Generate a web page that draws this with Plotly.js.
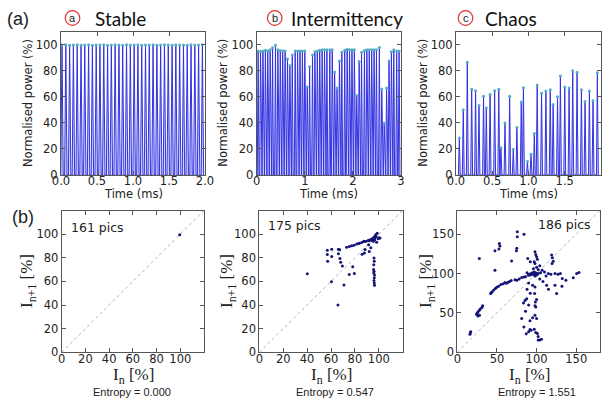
<!DOCTYPE html>
<html><head><meta charset="utf-8">
<script src="https://cdn.plot.ly/plotly-3.0.1.min.js"></script>
<style>html,body{margin:0;padding:0;background:#fff}#chart{width:607px;height:400px}</style>
</head><body><div id="chart"></div>
<script>
// ---- Data ----
// (a) Stable: peak times (ms) and normalised peak powers (%)
const stableTimes = [0.014,0.067,0.120,0.172,0.225,0.278,0.330,0.383,0.436,0.489,0.541,0.594,0.647,0.699,0.752,0.805,0.857,0.910,0.963,1.016,1.068,1.121,1.174,1.226,1.279,1.332,1.384,1.437,1.490,1.543,1.595,1.648,1.701,1.753,1.806,1.859,1.911,1.964];
const stablePeaks = [99.6,99.8,99.5,99.7,99.9,99.4,99.6,99.8,99.5,99.7,99.6,99.9,99.5,99.7,99.8,99.6,99.5,99.8,99.7,99.6,99.9,99.5,99.7,99.6,99.8,99.5,99.7,99.9,99.6,99.5,99.8,99.7,99.6,99.5,99.8,99.6,99.7,99.9];
// (b) Intermittency
const interTimes = [0.03,0.08,0.13,0.18,0.23,0.28,0.33,0.39,0.44,0.49,0.54,0.59,0.64,0.69,0.74,0.80,0.85,0.90,0.95,1.00,1.05,1.10,1.16,1.21,1.26,1.31,1.36,1.41,1.46,1.52,1.57,1.62,1.67,1.72,1.77,1.83,1.88,1.93,1.98,2.03,2.08,2.13,2.18,2.24,2.29,2.34,2.39,2.44,2.49,2.55,2.60,2.65,2.70,2.75,2.80,2.85,2.91,2.96];
const interPeaks = [95,94.6,95,95.6,95,96,97.5,99.5,96,95.4,95,95,89,84,92,95,95,95,95,95,67.5,83,92,94.5,95,95.6,96,96,96,96,96,79,66.6,87.4,94,95.6,96.4,96,96,96,61,87,94,95.4,96,96,96,96,96,97.7,66,39.6,66.6,87.4,94.4,96,95,95];
// (c) Chaos
const chaosTimes = [0.046,0.10,0.156,0.216,0.27,0.317,0.38,0.418,0.47,0.533,0.59,0.62,0.676,0.74,0.79,0.84,0.90,0.93,0.985,1.035,1.08,1.12,1.18,1.24,1.30,1.34,1.40,1.44,1.50,1.56,1.61,1.67,1.73,1.78,1.84,1.89,1.95];
const chaosPeaks = [28.3,50,86.4,65.8,64.5,53.2,60.4,51.4,61.7,64.5,65.8,20.8,39.8,60.4,19.8,36.5,56,66.8,10.3,16,31.9,69,62.7,64.3,65.3,54,59.9,75.8,67.4,66.6,80,78.7,65.3,56.3,64.3,57,78.4];

// Return maps I_n -> I_n+1 (%)
const mapStableX = [99.5];
const mapStableY = [99.5];
const mapInterX = [40.2,65.8,60.4,70.8,56.9,60.6,56.9,60.6,57.2,66.2,67.2,66.2,67.5,68.1,69.5,75.3,79.5,78.2,73.1,75.4,77.3,79.3,81.5,83.8,85.7,87.7,89.4,91.3,93,95.4,96.8,97.6,98.7,94,95,96,97,95.5,96.5,94.5,96,95,97.7,99.5,98.2,101,100,96,96.2,95.8,95.6,96,95.8,96.4,96.2,96,96.2,96.4,88,88.5,92,93.3,91.5,86,83,87.4,92,94.4];
const mapInterY = [66.4,40,59.8,57,86.4,87.3,82.7,81,77.1,87.3,86.8,83.5,79.3,76.3,73,65.8,66.6,72.5,89,89.5,90.1,90.6,91.7,92.3,92.9,93.7,94,94.9,95.3,94,96.8,99.6,100.7,95.6,96,97.5,98.5,95.5,95,94.6,95.6,95,98,96,93.2,96.8,97,79.9,77.1,74,70,68.6,67.2,65.5,63,60.7,58.7,56.7,84,87,85.4,88.4,91,83,92,94,94.5,96];
const mapChaosX = [16,16.5,17,24.4,25,26,27.5,29,31,32,28,26,42,43,44,46,48,49.7,52,55,58,60.2,62,64,66,68,72.8,75,78,81.2,84,86,89.6,92,94,98,96,97,99,100,101,95,93,97,98,100,102,99,91,88,75.7,75.7,84.1,53,53.8,47.5,52.5,74.6,75,27.8,47.5,68.5,88.9,92,98,99,100,101,97,98,100,96,102,104,119,120,121,119.5,114.8,118,123.2,127,130,132.4,137,146.3,150.6,153.5,110,112,107,105,112.7,125.3,123.2,132,115,108,104,98,97.5,98.5,99,98,100,97,99,101,102,104,106,102,98,100,81.2,83.5,85.4,87.5,86,84,87,91.7,90,93,95,91.7,90,92,88,95,90];
const mapChaosY = [23,25,26,48,49.5,51,53,55,57,59,47,46,74.6,76,77,79,81,82.6,84,86,87,88.6,87.5,89,90,91,92,91.5,93,94.9,95.5,96,97.8,98,99,99.1,100,98.5,101,100,99,101,100,102,97,98,100,99.5,99,101,153,146.6,150,138,135,129,131,129,132,119,104,116,119,115,127.5,124,121.2,118,115,112.7,108,106,105,110,123.4,120,115.6,112.7,100,99,100,99,100,93.6,91.5,94.5,100,101.3,102,97,104,101,85,74.5,85,84,80,90,93,83,74.5,64,57.6,47,42.8,29.2,25,24,15.7,15.7,16.5,20,59,67,42.8,62.7,65.9,68,52,32,23.7,29,26,28,44,40,60,75,80,85,88];

const pics = ['161 pics','175 pics','186 pics'];
const entropy = ['Entropy = 0.000','Entropy = 0.547','Entropy = 1.551'];
const regimes = ['Stable','Intermittency','Chaos'];
const regimeLetters = ['a','b','c'];

// ---- Helpers ----
const W = 607, H = 400;
const px = v => v / W;
const py = v => 1 - v / H;

function spikeLine(times, peaks, hw) {
  const x = [], y = [];
  for (let i = 0; i < times.length; i++) {
    x.push(times[i] - hw, times[i], times[i] + hw);
    y.push(0, peaks[i], 0);
  }
  return {x, y};
}

const lineColor = 'rgb(50,50,225)';
const peakColor = 'rgb(85,170,200)';
const navy = 'rgb(20,20,120)';

const traces = [];
[[stableTimes, stablePeaks, 'x', 'y', 0.017],
 [interTimes, interPeaks, 'x2', 'y2', 0.018],
 [chaosTimes, chaosPeaks, 'x3', 'y3', 0.013]].forEach(([t, p, xa, ya, hw]) => {
  const s = spikeLine(t, p, hw);
  traces.push({type:'scatter', mode:'lines', x:s.x, y:s.y, xaxis:xa, yaxis:ya,
    line:{color:lineColor, width:1}, fill:'tozeroy', fillcolor:'rgba(130,130,240,0.35)',
    hoverinfo:'skip', showlegend:false});
  traces.push({type:'scatter', mode:'markers', x:t, y:p, xaxis:xa, yaxis:ya,
    marker:{color:peakColor, size:3}, showlegend:false});
});
[[mapStableX, mapStableY, 'x4', 'y4'],
 [mapInterX, mapInterY, 'x5', 'y5'],
 [mapChaosX, mapChaosY, 'x6', 'y6']].forEach(([x, y, xa, ya]) => {
  traces.push({type:'scatter', mode:'markers', x, y, xaxis:xa, yaxis:ya,
    marker:{color:navy, size:3}, showlegend:false});
});

const tickFont = {family:'DejaVu Sans', size:11.5, color:'#222'};
function ax(domain, range, extra) {
  return Object.assign({domain, range, showline:true, mirror:'ticks', linecolor:'#555', linewidth:1,
    ticks:'inside', ticklen:4, tickcolor:'#555', showgrid:false, zeroline:false,
    tickfont:tickFont, fixedrange:true}, extra || {});
}
const topY = [py(175), py(31.5)];
const botY = [py(352.3), py(210.5)];

const layout = {
  width: W, height: H,
  margin:{l:0, r:0, t:0, b:0},
  paper_bgcolor:'#fff', plot_bgcolor:'#fff',
  showlegend:false,
  xaxis:  ax([px(61), px(205)], [0, 2], {dtick:0.5, tickformat:'.1f', anchor:'y', ticklabelstandoff:-5}),
  yaxis:  ax(topY, [0, 110], {dtick:20, anchor:'x'}),
  xaxis2: ax([px(256.7), px(401)], [0, 3], {dtick:1, anchor:'y2', ticklabelstandoff:-5}),
  yaxis2: ax(topY, [0, 110], {dtick:20, anchor:'x2'}),
  xaxis3: ax([px(456), px(601)], [0, 2], {dtick:0.5, tickformat:'.1f', anchor:'y3', ticklabelstandoff:-5}),
  yaxis3: ax(topY, [0, 110], {dtick:20, anchor:'x3'}),
  xaxis4: ax([px(61.7), px(204)], [0, 120], {tickvals:[0,20,40,60,80,100], anchor:'y4', ticklabelstandoff:-4}),
  yaxis4: ax(botY, [0, 120], {tickvals:[0,20,40,60,80,100], anchor:'x4'}),
  xaxis5: ax([px(259.3), px(402.7)], [0, 120], {tickvals:[0,20,40,60,80,100], anchor:'y5', ticklabelstandoff:-4}),
  yaxis5: ax(botY, [0, 120], {tickvals:[0,20,40,60,80,100], anchor:'x5'}),
  xaxis6: ax([px(457.3), px(600)], [0, 180], {tickvals:[0,50,100,150], anchor:'y6', ticklabelstandoff:-4}),
  yaxis6: ax(botY, [0, 180], {tickvals:[0,50,100,150], anchor:'x6'}),
  shapes: [],
  annotations: []
};

// diagonal reference lines y = x
[['x4','y4',120],['x5','y5',120],['x6','y6',180]].forEach(([xr, yr, m]) => {
  layout.shapes.push({type:'line', xref:xr, yref:yr, x0:0, y0:0, x1:m, y1:m,
    line:{color:'rgb(175,175,175)', width:1, dash:'dot'}, layer:'below'});
});

function ann(text, x, y, font, extra) {
  layout.annotations.push(Object.assign({text, xref:'paper', yref:'paper', x:px(x), y:py(y),
    xanchor:'center', yanchor:'middle', showarrow:false, font}, extra || {}));
}
const sans = {family:'DejaVu Sans', size:11.5, color:'#222'};
const serif = {family:'Liberation Serif', size:17, color:'#222'};

// panel labels
ann('(a)', 18, 19, {family:'Liberation Sans', size:18, color:'#222'});
ann('(b)', 23, 217, {family:'Liberation Sans', size:18, color:'#222'});

// regime headers with circled letters
const circleX = [72.5, 274.7, 465.5];
const headX = [93, 289, 483];
regimes.forEach((r, i) => {
  const cx = circleX[i], cy = 18, rad = 7.3;
  layout.shapes.push({type:'circle', xref:'paper', yref:'paper',
    x0:px(cx-rad), x1:px(cx+rad), y0:py(cy+rad), y1:py(cy-rad),
    line:{color:'rgb(225,50,50)', width:1.2}});
  ann(regimeLetters[i], cx, cy, {family:'Liberation Sans', size:11, color:'#222'});
  ann(r, headX[i], 18, {family:'Lato', size:19, color:'#111'}, {xanchor:'left'});
});

// top row axis titles
[28, 222.7, 422.7].forEach(x => ann('Normalised power (%)', x, 103, sans, {textangle:-90}));
[133, 329, 528.5].forEach(x => ann('Time (ms)', x, 194, sans));
// bottom row axis titles
[28, 228, 427].forEach(x => ann('I<sub>n+1</sub> [%]', x, 281, serif, {textangle:-90}));
[133, 331, 529].forEach(x => ann('I<sub>n</sub> [%]', x, 376, serif));
// counts
ann(pics[0], 97.5, 227, {family:'DejaVu Sans', size:12.5, color:'#222'});
ann(pics[1], 294, 225, {family:'DejaVu Sans', size:12.5, color:'#222'});
ann(pics[2], 564.5, 224, {family:'DejaVu Sans', size:12.5, color:'#222'});
// entropy
[132, 335, 537].forEach((x, i) => ann(entropy[i], x, 392, {family:'Liberation Sans', size:11, color:'#222'}));

Plotly.newPlot('chart', traces, layout, {staticPlot:true, displayModeBar:false});
</script>
</body></html>
